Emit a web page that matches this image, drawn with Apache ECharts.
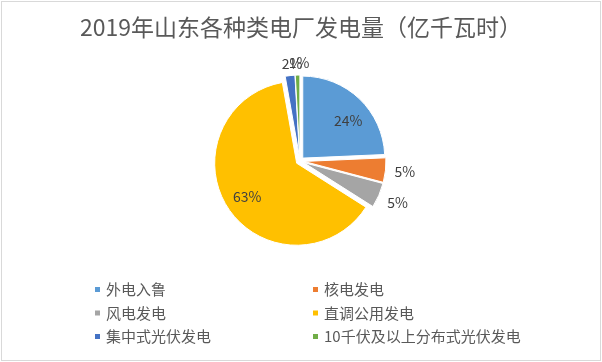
<!DOCTYPE html>
<html><head><meta charset="utf-8">
<script src="https://cdn.jsdelivr.net/npm/echarts@6/dist/echarts.min.js"></script>
<style>
html,body{margin:0;padding:0;background:#fff;}
#frame{position:absolute;left:1px;top:1px;width:600px;height:360px;box-sizing:border-box;border:1px solid #d9d9d9;}
#c{position:absolute;left:0;top:0;width:602px;height:362px;}
</style></head>
<body>
<div id="frame"></div>
<div id="c"></div>
<script>
const titleText = '2019年山东各种类电厂发电量（亿千瓦时）';
const categories = ['外电入鲁','核电发电','风电发电','直调公用发电','集中式光伏发电','10千伏及以上分布式光伏发电'];
const values = [24.3, 4.8, 4.9, 63.2, 1.9, 0.9];
const colors = ['#5B9BD5','#ED7D31','#A5A5A5','#FFC000','#4472C4','#70AD47'];
const labelPos = ['inside','outside','outside','inside','outside','outside'];
const labelShift = [[15,-6],[-4,1],[-4,5],[-13,9],[20,-6],[19,-6]];

const font = '"Noto Sans CJK SC","Microsoft YaHei",sans-serif';
const chart = echarts.init(document.getElementById('c'), null, {renderer:'canvas'});
const data = categories.map((n,i)=>({
  name:n, value:values[i], selected:true,
  itemStyle:{color:colors[i]},
  label:{position:labelPos[i]}
}));
chart.setOption({
  animation:false,
  title:{text:titleText,left:'center',top:11,
    textStyle:{fontFamily:font,fontSize:23,fontWeight:'normal',color:'#595959'}},
  legend:[
    {data:[categories[0],categories[2],categories[4]],orient:'vertical',left:88,top:277,
     itemWidth:7,itemHeight:7,icon:'rect',itemGap:8.5,
     textStyle:{fontFamily:font,fontSize:15,color:'#595959'}},
    {data:[categories[1],categories[3],categories[5]],orient:'vertical',left:306,top:277,
     itemWidth:7,itemHeight:7,icon:'rect',itemGap:8.5,
     textStyle:{fontFamily:font,fontSize:15,color:'#595959'}}
  ],
  series:[{
    type:'pie',
    center:[300,161],
    radius:[0,82],
    startAngle:90,
    clockwise:true,
    selectedMode:'multiple',
    selectedOffset:4,
    avoidLabelOverlap:false,
    emphasis:{disabled:true},
    labelLayout:function(p){
      const s = labelShift[p.dataIndex];
      return {dx:s[0], dy:s[1], hideOverlap:false};
    },
    itemStyle:{borderColor:'#fff',borderWidth:1},
    label:{show:true,fontFamily:font,fontSize:14,color:'#404040',
      formatter:p=>Math.round(p.percent)+'%'},
    labelLine:{show:false,length:6,length2:2},
    data:data
  }]
});
</script>
</body></html>
